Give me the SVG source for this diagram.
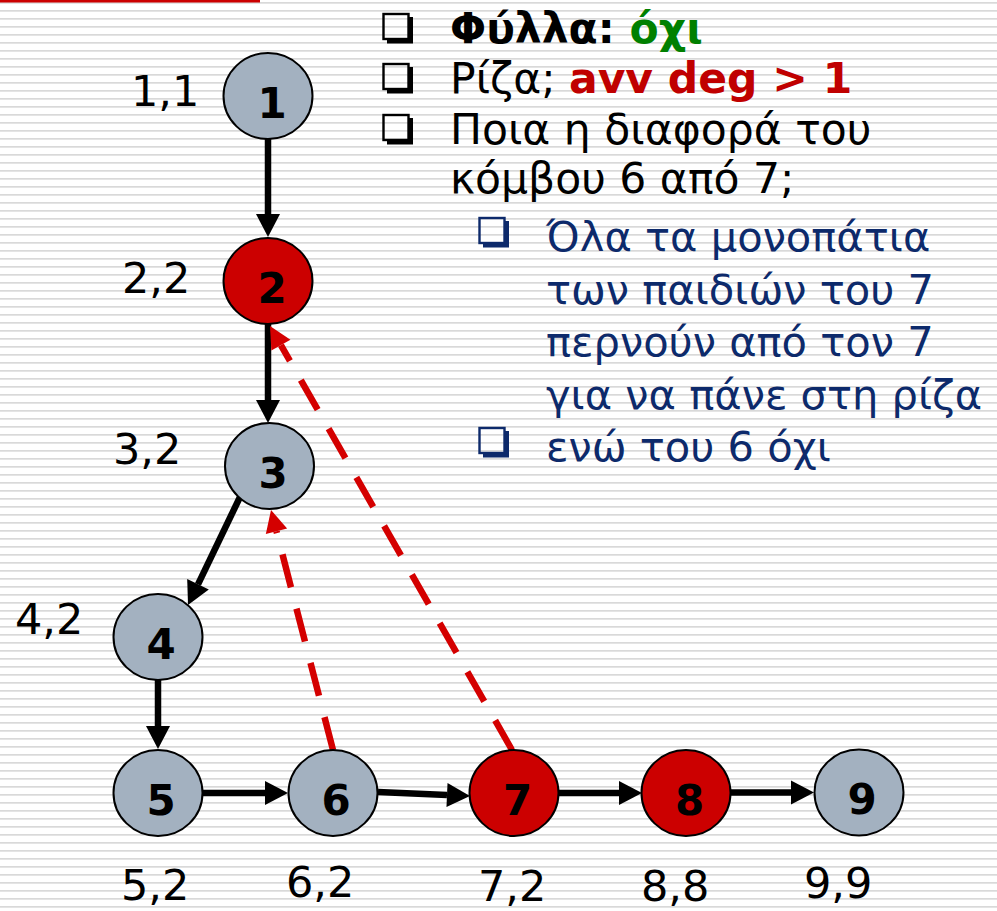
<svg xmlns="http://www.w3.org/2000/svg" width="997" height="911" viewBox="0 0 997 911">
  <defs>
    <style>
      .lbl { font-family: "DejaVu Sans", Verdana, sans-serif; font-size: 43px; fill: #000; }
      .num { font-family: "DejaVu Sans", Verdana, sans-serif; font-size: 42px; font-weight: bold; fill: #000; text-anchor: middle; }
      .txt { font-family: "DejaVu Sans", Verdana, sans-serif; font-size: 42.5px; fill: #000; }
      .sub { font-family: "DejaVu Sans", Verdana, sans-serif; font-size: 41.6px; fill: #0d2a6b; }
      .gray { fill: #a3b1c0; stroke: #000; stroke-width: 2; }
      .red { fill: #cc0000; stroke: #000; stroke-width: 2; }
      .edge { fill: none; stroke: #000; stroke-width: 6.5; }
      .back { fill: none; stroke: #d40000; stroke-width: 6.5; stroke-dasharray: 34 22; }
    </style>
    <pattern id="stripes" width="8" height="8" patternUnits="userSpaceOnUse">
      <rect x="0" y="2" width="8" height="1.7" fill="#d9d9d9"/>
    </pattern>
    <marker id="ah" markerUnits="userSpaceOnUse" markerWidth="24" markerHeight="24" viewBox="0 0 24 24" refX="0" refY="12" orient="auto" overflow="visible">
      <path d="M0,0 L23,12 L0,24 Z" fill="#000"/>
    </marker>
    <marker id="ahr" markerUnits="userSpaceOnUse" markerWidth="24" markerHeight="24" viewBox="0 0 24 24" refX="0" refY="12" orient="auto" overflow="visible">
      <path d="M0,1 L22,12 L0,23 Z" fill="#d40000"/>
    </marker>
    <!-- square list bullet with drop shadow -->
    <g id="box">
      <rect x="0.5" y="1" width="25" height="25" fill="none" stroke="currentColor" stroke-width="2.4"/>
      <path d="M26,4 H30 V30.5 H4 V26.5 H26 Z" fill="currentColor"/>
    </g>
  </defs>

  <!-- page background -->
  <rect width="997" height="911" fill="#fff"/>
  <rect width="997" height="911" fill="url(#stripes)"/>
  <rect x="0" y="0" width="260" height="2.5" fill="#cc0000"/>

  <!-- connectors -->
  <g id="connectors">
    <path class="edge" d="M268,139 L268,214" marker-end="url(#ah)"/>
    <path class="edge" d="M268,324 L268,400" marker-end="url(#ah)"/>
    <path class="edge" d="M240,497 L198,584.3" marker-end="url(#ah)"/>
    <path class="edge" d="M158,680 L158,726" marker-end="url(#ah)"/>
    <path class="edge" d="M202,793 L265,793" marker-end="url(#ah)"/>
    <path class="edge" d="M378,792 L447,795" marker-end="url(#ah)"/>
    <path class="edge" d="M558,793 L619,793" marker-end="url(#ah)"/>
    <path class="edge" d="M730,792.5 L791,792.5" marker-end="url(#ah)"/>
    <path class="back" d="M333,750 L276.5,531.3" marker-end="url(#ahr)"/>
    <path class="back" d="M512,750 L280.9,345.1" marker-end="url(#ahr)"/>
  </g>

  <!-- nodes -->
  <g id="node1">
    <ellipse class="gray" cx="268" cy="96" rx="44.5" ry="43"/>
    <text class="num" x="272" y="118">1</text>
    <text class="lbl" x="131" y="106">1,1</text>
  </g>
  <g id="node2">
    <ellipse class="red" cx="268" cy="281" rx="44.5" ry="43"/>
    <text class="num" x="272" y="303">2</text>
    <text class="lbl" x="122" y="293">2,2</text>
  </g>
  <g id="node3">
    <ellipse class="gray" cx="269.5" cy="466" rx="44.5" ry="43"/>
    <text class="num" x="273" y="488">3</text>
    <text class="lbl" x="113" y="464">3,2</text>
  </g>
  <g id="node4">
    <ellipse class="gray" cx="158" cy="637" rx="44.5" ry="43"/>
    <text class="num" x="161" y="659">4</text>
    <text class="lbl" x="15" y="634">4,2</text>
  </g>
  <g id="node5">
    <ellipse class="gray" cx="158" cy="793" rx="44.5" ry="43"/>
    <text class="num" x="161" y="815">5</text>
    <text class="lbl" x="121" y="900">5,2</text>
  </g>
  <g id="node6">
    <ellipse class="gray" cx="333" cy="793" rx="44.5" ry="43"/>
    <text class="num" x="336" y="815">6</text>
    <text class="lbl" x="286" y="897">6,2</text>
  </g>
  <g id="node7">
    <ellipse class="red" cx="514" cy="793" rx="44.5" ry="43"/>
    <text class="num" x="517.5" y="815">7</text>
    <text class="lbl" x="478" y="901">7,2</text>
  </g>
  <g id="node8">
    <ellipse class="red" cx="686" cy="793" rx="44.5" ry="43"/>
    <text class="num" x="689.5" y="815">8</text>
    <text class="lbl" x="641" y="901">8,8</text>
  </g>
  <g id="node9">
    <ellipse class="gray" cx="859" cy="792.5" rx="44.5" ry="43"/>
    <text class="num" x="862" y="814">9</text>
    <text class="lbl" x="804" y="898">9,9</text>
  </g>

  <!-- bullet list -->
  <g id="notes">
    <use href="#box" x="383" y="13" color="#000"/>
    <use href="#box" x="383" y="63" color="#000"/>
    <use href="#box" x="383" y="114" color="#000"/>
    <use href="#box" x="479" y="217" color="#0d2a6b"/>
    <use href="#box" x="479" y="427" color="#0d2a6b"/>

    <text class="txt" x="450" y="43" font-weight="bold">Φύλλα: <tspan fill="#008000">όχι</tspan></text>
    <text class="txt" x="450" y="93">Ρίζα; <tspan fill="#c00000" font-weight="bold">avv deg &gt; 1</tspan></text>
    <text class="txt" x="450" y="144">Ποια η διαφορά του</text>
    <text class="txt" x="450" y="193" fill="#c00000">κόμβου 6 από 7;</text>

    <text class="sub" x="546" y="251">Όλα τα μονοπάτια</text>
    <text class="sub" x="546" y="303.5">των παιδιών του 7</text>
    <text class="sub" x="546" y="356">περνούν από τον 7</text>
    <text class="sub" x="546" y="408.5">για να πάνε στη ρίζα</text>
    <text class="sub" x="546" y="461">ενώ του 6 όχι</text>
  </g>
</svg>
